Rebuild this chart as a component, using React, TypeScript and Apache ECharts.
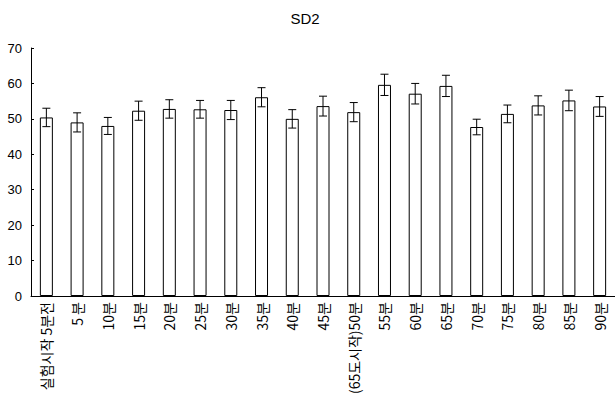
import React, { useEffect, useRef } from "react";
import * as echarts from "echarts";

const titleText = "SD2";
const categories = [
  "실험시작 5분전", "5 분", "10분", "15분", "20분", "25분", "30분", "35분", "40분", "45분",
  "(65도시작)50분", "55분", "60분", "65분", "70분", "75분", "80분", "85분", "90분",
];
const means = [50.4, 49.0, 48.0, 52.3, 52.8, 52.7, 52.5, 56.1, 50.0, 53.6, 51.9, 59.6, 57.1, 59.3, 47.7, 51.4, 53.8, 55.2, 53.5];
const errors = [2.6, 2.7, 2.4, 2.7, 2.6, 2.5, 2.7, 2.7, 2.6, 2.8, 2.7, 3.0, 2.9, 3.0, 2.2, 2.5, 2.7, 2.9, 2.8];
const yTicks = { min: 0, max: 70, interval: 10 };

export default function App() {
  const ref = useRef<HTMLDivElement>(null);
  useEffect(() => {
    if (!ref.current) return;
    const chart = echarts.init(ref.current, null, { renderer: "svg" });
    const errData = means.map((m, i) => [i, m - errors[i], m + errors[i]]);
    chart.setOption({
      animation: false,
      backgroundColor: "#fff",
      title: {
        text: titleText,
        left: 300,
        top: 6,
        textAlign: "center",
        textStyle: { fontSize: 15, fontWeight: "normal", color: "#000", fontFamily: "Liberation Sans" },
      },
      grid: { left: 31, top: 48, width: 585, bottom: 120, containLabel: false },
      xAxis: {
        type: "category",
        data: categories,
        axisLine: { lineStyle: { color: "#000", width: 1 } },
        axisTick: { inside: true, length: 3, lineStyle: { color: "#000" } },
        axisLabel: {
          rotate: 90,
          margin: 6,
          interval: 0,
          color: "#000",
          fontSize: 14,
          fontFamily: "Noto Sans CJK KR",
        },
      },
      yAxis: {
        type: "value",
        min: yTicks.min,
        max: yTicks.max,
        interval: yTicks.interval,
        axisLine: { show: true, lineStyle: { color: "#000", width: 1 } },
        axisTick: { show: true, inside: true, length: 3, lineStyle: { color: "#000" } },
        splitLine: { show: false },
        axisLabel: { color: "#000", fontSize: 13, margin: 9, fontFamily: "Liberation Sans" },
      },
      series: [
        {
          type: "bar",
          data: means,
          barWidth: 13,
          itemStyle: { color: "#fff", borderColor: "#000", borderWidth: 1 },
        },
        {
          type: "custom",
          data: errData,
          z: 10,
          renderItem: (params: any, api: any) => {
            const x = api.value(0);
            const lo = api.coord([x, api.value(1)]);
            const hi = api.coord([x, api.value(2)]);
            const hw = 4;
            const style = { stroke: "#000", lineWidth: 1 };
            return {
              type: "group",
              children: [
                { type: "line", shape: { x1: lo[0], y1: lo[1], x2: hi[0], y2: hi[1] }, style },
                { type: "line", shape: { x1: hi[0] - hw, y1: hi[1], x2: hi[0] + hw, y2: hi[1] }, style },
                { type: "line", shape: { x1: lo[0] - hw, y1: lo[1], x2: lo[0] + hw, y2: lo[1] }, style },
              ],
            };
          },
        },
      ],
    });
    return () => chart.dispose();
  }, []);
  return (
    <div
      ref={ref}
      style={{ position: "fixed", left: 0, top: 0, width: 615, height: 416 }}
    />
  );
}
